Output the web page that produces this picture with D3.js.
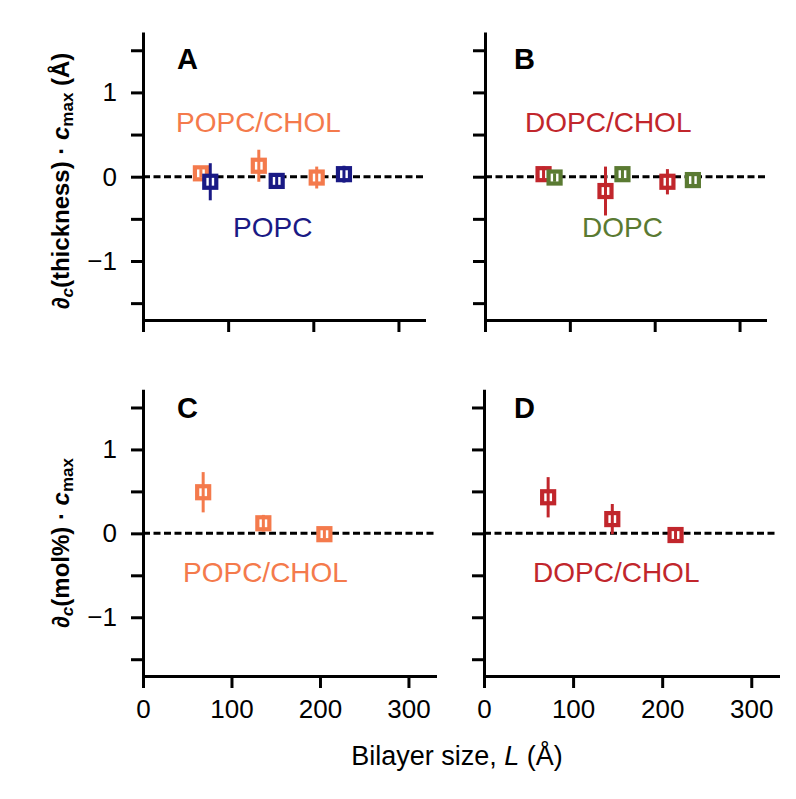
<!DOCTYPE html>
<html>
<head>
<meta charset="utf-8">
<script src="https://cdn.jsdelivr.net/npm/d3@7"></script>
<style>
  html, body { margin: 0; padding: 0; background: #fff; }
  svg { display: block; font-family: "Liberation Sans", Arial, Helvetica, sans-serif; }
</style>
</head>
<body>
<svg id="chart" width="796" height="799"></svg>
<script>
// ---------------- data ----------------
const xTicks = [0, 100, 200, 300];
const yTicks = [-1.5, -1, -0.5, 0, 0.5, 1, 1.5];
const yTickLabels = [-1, 0, 1];

// Panel A: thickness, POPC series
const popcCholThickL   = [68, 136, 204];
const popcCholThickVal = [0.04, 0.13, -0.01];
const popcCholThickErr = [0.05, 0.19, 0.13];
const popcThickL   = [79, 157, 236];
const popcThickVal = [-0.06, -0.05, 0.03];
const popcThickErr = [0.22, 0.05, 0.10];

// Panel B: thickness, DOPC series
const dopcCholThickL   = [69, 142, 215];
const dopcCholThickVal = [0.03, -0.17, -0.06];
const dopcCholThickErr = [0.09, 0.29, 0.15];
const dopcThickL   = [82, 162, 245];
const dopcThickVal = [-0.01, 0.03, -0.04];
const dopcThickErr = [0.05, 0.05, 0.05];

// Panel C: mol%, POPC/CHOL
const popcCholMolL   = [68, 136, 205];
const popcCholMolVal = [0.49, 0.12, -0.01];
const popcCholMolErr = [0.24, 0.10, 0.05];

// Panel D: mol%, DOPC/CHOL
const dopcCholMolL   = [72, 144, 215];
const dopcCholMolVal = [0.43, 0.17, -0.02];
const dopcCholMolErr = [0.24, 0.18, 0.05];

const seriesNames = ["POPC/CHOL", "POPC", "DOPC/CHOL", "DOPC"];
const seriesColors = { "POPC/CHOL": "#f47a4c", "POPC": "#1a1a85", "DOPC/CHOL": "#c1262c", "DOPC": "#5a7a32" };

function zipSeries(L, v, e) { return L.map((d, i) => ({ L: d, v: v[i], e: e[i] })); }

// ---------------- layout ----------------
const svg = d3.select("#chart");
const xDomain = [0, 330];
const yDomain = [-1.7, 1.7];

const panels = [
  { letter: "A", xr: [143, 424], yr: [320, 33.4], xLabels: false, yLabels: true, lx: 177, ly: 69,
    series: [ { name: "POPC/CHOL", data: zipSeries(popcCholThickL, popcCholThickVal, popcCholThickErr) },
              { name: "POPC", data: zipSeries(popcThickL, popcThickVal, popcThickErr) } ],
    texts: [ { t: "POPC/CHOL", x: 176, y: 132 }, { t: "POPC", x: 233, y: 237 } ] },
  { letter: "B", xr: [485, 765], yr: [320, 33.4], xLabels: false, yLabels: false, lx: 514, ly: 69,
    series: [ { name: "DOPC/CHOL", data: zipSeries(dopcCholThickL, dopcCholThickVal, dopcCholThickErr) },
              { name: "DOPC", data: zipSeries(dopcThickL, dopcThickVal, dopcThickErr) } ],
    texts: [ { t: "DOPC/CHOL", x: 525, y: 132 }, { t: "DOPC", x: 582, y: 237 } ] },
  { letter: "C", xr: [143, 435], yr: [676, 390.7], xLabels: true, yLabels: true, lx: 177, ly: 418,
    series: [ { name: "POPC/CHOL", data: zipSeries(popcCholMolL, popcCholMolVal, popcCholMolErr) } ],
    texts: [ { t: "POPC/CHOL", x: 183, y: 582 } ] },
  { letter: "D", xr: [484, 778], yr: [676, 390.7], xLabels: true, yLabels: false, lx: 514, ly: 418,
    series: [ { name: "DOPC/CHOL", data: zipSeries(dopcCholMolL, dopcCholMolVal, dopcCholMolErr) } ],
    texts: [ { t: "DOPC/CHOL", x: 533, y: 582 } ] }
];

const AXW = 3;
panels.forEach(p => {
  const x = d3.scaleLinear().domain(xDomain).range(p.xr);
  const y = d3.scaleLinear().domain(yDomain).range(p.yr);
  const g = svg.append("g");

  // zero dashed line
  g.append("line")
    .attr("x1", x(0)).attr("x2", x(xDomain[1]))
    .attr("y1", y(0)).attr("y2", y(0))
    .attr("stroke", "#000").attr("stroke-width", 3)
    .attr("stroke-dasharray", "7,3.5");

  // y axis
  const yAxis = d3.axisLeft(y).tickValues(yTicks).tickSize(12).tickSizeOuter(0).tickPadding(14)
    .tickFormat(d => (p.yLabels && yTickLabels.includes(d)) ? d3.format("d")(d) : "");
  const ya = g.append("g").attr("transform", `translate(${x(0)},0)`).call(yAxis);
  // x axis
  const xAxis = d3.axisBottom(x).tickValues(xTicks).tickSize(12).tickSizeOuter(0).tickPadding(12)
    .tickFormat(d => p.xLabels ? d : "");
  const xa = g.append("g").attr("transform", `translate(0,${y(yDomain[0])})`).call(xAxis);

  [ya, xa].forEach(a => {
    a.select(".domain").attr("stroke-width", AXW).attr("stroke-linecap", "square");
    a.selectAll(".tick line").attr("stroke-width", AXW);
    a.selectAll(".tick text").attr("font-size", 26).attr("fill", "#000")
      .attr("font-family", "Liberation Sans, Arial, sans-serif");
  });

  // series
  p.series.forEach(s => {
    const col = seriesColors[s.name];
    const sg = g.append("g");
    sg.selectAll("rect").data(s.data).join("rect")
      .attr("x", d => x(d.L) - 6).attr("y", d => y(d.v) - 6)
      .attr("width", 12).attr("height", 12)
      .attr("fill", "#fff").attr("stroke", col).attr("stroke-width", 4.2);
    sg.selectAll("line").data(s.data).join("line")
      .attr("x1", d => x(d.L)).attr("x2", d => x(d.L))
      .attr("y1", d => y(d.v + d.e)).attr("y2", d => y(d.v - d.e))
      .attr("stroke", col).attr("stroke-width", 3);
  });

  // series labels
  p.texts.forEach(t => {
    g.append("text").attr("x", t.x).attr("y", t.y).text(t.t)
      .attr("font-size", 28).attr("fill", seriesColors[t.t]);
  });

  // panel letter
  g.append("text").attr("x", p.lx).attr("y", p.ly).text(p.letter)
    .attr("font-size", 29).attr("font-weight", "bold").attr("fill", "#000");
});

// y axis titles
function yTitle(cx, cy, mid) {
  const t = svg.append("text")
    .attr("transform", `translate(${cx},${cy}) rotate(-90)`)
    .attr("text-anchor", "middle").attr("font-size", 24).attr("font-weight", "bold").attr("fill", "#000");
  t.append("tspan").text("\u2202");
  t.append("tspan").text("c").attr("font-style", "italic").attr("font-size", 17).attr("baseline-shift", "-22%");
  t.append("tspan").text(mid + " \u00b7 ");
  t.append("tspan").text("c").attr("font-style", "italic");
  t.append("tspan").text("max").attr("font-size", 17).attr("baseline-shift", "-22%");
  return t;
}
const t1 = yTitle(69, 181, "(thickness)");
t1.append("tspan").text(" (\u00c5)");
yTitle(69, 543, "(mol%)");

// x axis title
const xt = svg.append("text").attr("x", 457).attr("y", 765).attr("text-anchor", "middle")
  .attr("font-size", 27).attr("fill", "#000");
xt.append("tspan").text("Bilayer size, ");
xt.append("tspan").text("L").attr("font-style", "italic");
xt.append("tspan").text(" (\u00c5)");
</script>
</body>
</html>
